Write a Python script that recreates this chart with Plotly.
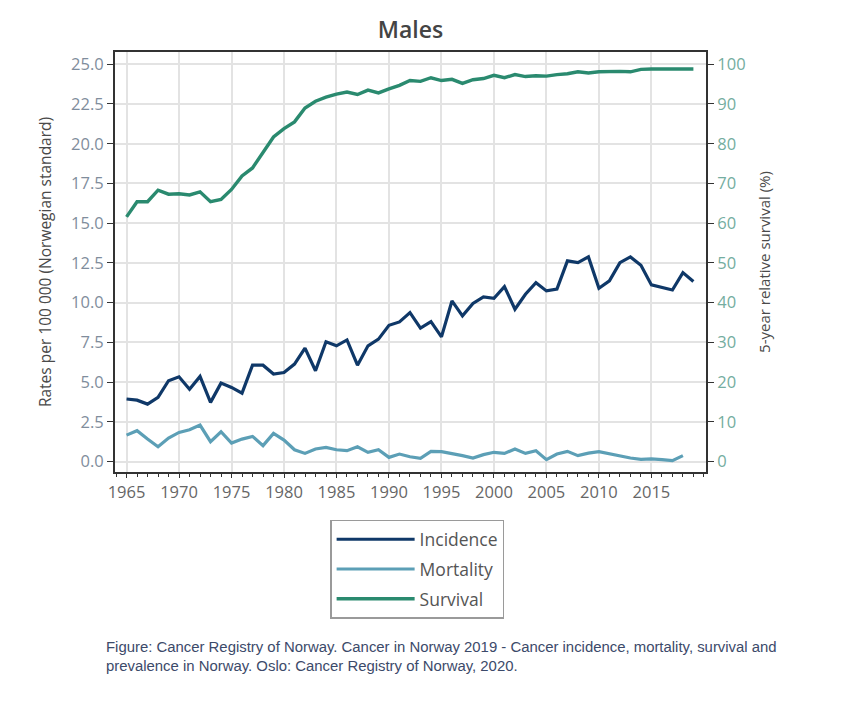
import plotly.graph_objects as go

years = list(range(1965, 2020))

incidence = [3.94, 3.87, 3.62, 4.04, 5.09, 5.34, 4.56, 5.36, 3.73, 4.94,
             4.67, 4.31, 6.07, 6.07, 5.51, 5.61, 6.14, 7.14, 5.72, 7.54,
             7.29, 7.66, 6.07, 7.29, 7.71, 8.58, 8.79, 9.38, 8.40, 8.81,
             7.85, 10.11, 9.17, 9.95, 10.36, 10.28, 11.01, 9.59, 10.53, 11.26,
             10.74, 10.85, 12.63, 12.52, 12.88, 10.91, 11.37, 12.52, 12.88, 12.35,
             11.12, 10.95, 10.80, 11.89, 11.33]

mortality = [1.67, 1.95, 1.42, 0.94, 1.49, 1.84, 2.01, 2.30, 1.26, 1.88,
             1.17, 1.42, 1.59, 1.01, 1.78, 1.36, 0.75, 0.52, 0.80, 0.90,
             0.75, 0.69, 0.94, 0.59, 0.75, 0.27, 0.48, 0.31, 0.21, 0.65,
             0.63, 0.52, 0.38, 0.23, 0.44, 0.59, 0.52, 0.80, 0.52, 0.69,
             0.13, 0.48, 0.65, 0.38, 0.54, 0.63, 0.48, 0.34, 0.23, 0.15,
             0.17, 0.13, 0.06, 0.38, None]

survival = [61.6, 65.4, 65.4, 68.3, 67.3, 67.4, 67.1, 67.9, 65.4, 66.0,
            68.5, 71.9, 73.9, 77.7, 81.7, 83.8, 85.5, 89.0, 90.7, 91.7,
            92.5, 93.0, 92.4, 93.5, 92.8, 93.8, 94.7, 95.9, 95.7, 96.6,
            95.9, 96.2, 95.2, 96.1, 96.4, 97.2, 96.6, 97.4, 96.9, 97.1,
            97.0, 97.4, 97.6, 98.1, 97.8, 98.1, 98.2, 98.2, 98.1, 98.7,
            98.8, 98.8, 98.8, 98.8, 98.8]

left_ticks = [0, 2.5, 5, 7.5, 10, 12.5, 15, 17.5, 20, 22.5, 25]
left_labels = ["0.0", "2.5", "5.0", "7.5", "10.0", "12.5", "15.0", "17.5", "20.0", "22.5", "25.0"]
right_ticks = [0, 10, 20, 30, 40, 50, 60, 70, 80, 90, 100]
x_ticks = [1965, 1970, 1975, 1980, 1985, 1990, 1995, 2000, 2005, 2010, 2015]

title_text = "Males"
left_title = "Rates per 100 000 (Norwegian standard)"
right_title = "5-year relative survival (%)"
caption1 = "Figure: Cancer Registry of Norway. Cancer in Norway 2019 - Cancer incidence, mortality, survival and"
caption2 = "prevalence in Norway. Oslo: Cancer Registry of Norway, 2020."

C_INC = "#0f3868"
C_MOR = "#5c9fb6"
C_SUR = "#2a8a6f"
AXIS = "#333333"
FONT = "Open Sans"

fig = go.Figure()
fig.add_trace(go.Scatter(x=years, y=incidence, name="Incidence", mode="lines",
                         legendgroup="a", line=dict(color=C_INC, width=3.2)))
fig.add_trace(go.Scatter(x=years, y=mortality, name="Mortality", mode="lines",
                         legendgroup="b", line=dict(color=C_MOR, width=3.2)))
fig.add_trace(go.Scatter(x=years, y=survival, name="Survival", mode="lines",
                         legendgroup="c", line=dict(color=C_SUR, width=3.4), yaxis="y2"))

fig.update_layout(
    width=841, height=706,
    margin=dict(l=115, r=135, t=52, b=234, autoexpand=False),
    paper_bgcolor="white", plot_bgcolor="white",
    font=dict(family=FONT, color="#555555"),
    title=dict(text=title_text, x=0.5, xref="paper", xanchor="center",
               y=0.957, yanchor="middle",
               font=dict(family=FONT, size=23, color="#444444", weight=600)),
    xaxis=dict(range=[1963.9, 2020.2], tickvals=x_ticks, showgrid=True,
               gridcolor="#e3e3e3", gridwidth=2, showline=True, linecolor=AXIS,
               linewidth=2, mirror=True, ticks="outside", ticklen=4, tickcolor=AXIS,
               tickfont=dict(family=FONT, size=16.5, color="#666666"),
               minor=dict(dtick=1, ticks="outside", ticklen=3, tickcolor=AXIS),
               zeroline=False),
    yaxis=dict(range=[-0.65, 25.77], tickvals=left_ticks, ticktext=left_labels,
               showgrid=True, gridcolor="#e3e3e3", gridwidth=2, showline=True,
               linecolor=AXIS, linewidth=2, ticks="outside", ticklen=6, tickcolor=AXIS,
               tickfont=dict(family=FONT, size=16.5, color="#7f8d9c"), zeroline=False,
               title=dict(text=left_title, standoff=16,
                          font=dict(family=FONT, size=15.5, color="#4a4a4a"))),
    yaxis2=dict(range=[-2.6, 103.08], tickvals=right_ticks, overlaying="y",
                side="right", showgrid=False, showline=True, linecolor=AXIS,
                linewidth=2, ticks="outside", ticklen=6, tickcolor=AXIS,
                tickfont=dict(family=FONT, size=16.5, color="#74ada0"), zeroline=False,
                title=dict(text=right_title, standoff=15,
                           font=dict(family=FONT, size=15, color="#4a4a4a"))),
    legend=dict(x=0.364, y=-0.114, xanchor="left", yanchor="top",
                bordercolor="#9a9a9a", borderwidth=1.5, bgcolor="white",
                itemwidth=78, tracegroupgap=4,
                font=dict(family=FONT, size=17.5, color="#555555")),
    showlegend=True,
)

fig.add_annotation(text=caption1, xref="paper", yref="paper", x=-0.019, y=-0.417,
                   xanchor="left", yanchor="middle", showarrow=False,
                   font=dict(family="Liberation Sans", size=14.9, color="#3c4a6a"))
fig.add_annotation(text=caption2, xref="paper", yref="paper", x=-0.019, y=-0.462,
                   xanchor="left", yanchor="middle", showarrow=False,
                   font=dict(family="Liberation Sans", size=14.9, color="#3c4a6a"))

fig.write_html("out.html")
